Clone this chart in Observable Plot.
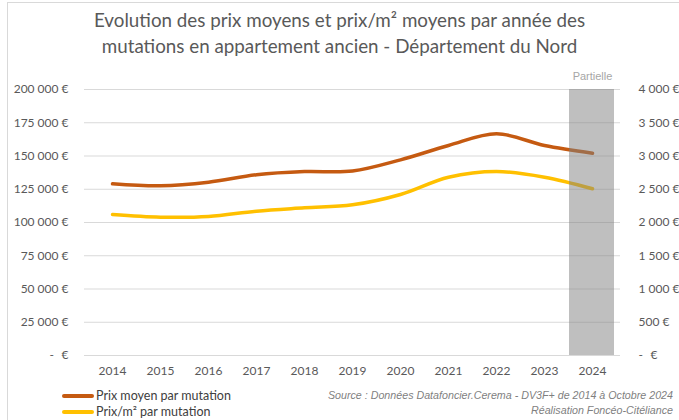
<!DOCTYPE html>
<html><head><meta charset="utf-8">
<script src="https://cdn.jsdelivr.net/npm/d3@7"></script>
<script src="https://cdn.jsdelivr.net/npm/@observablehq/plot@0.6"></script>
<style>
body{margin:0;background:#fff;width:679px;height:420px;overflow:hidden;position:relative;font-family:Lato,"Open Sans",sans-serif;}
#frame{position:absolute;left:7px;top:2px;width:700px;height:440px;border:1px solid #d9d9d9;}
#title{position:absolute;left:0;top:7px;width:679px;text-align:center;color:#595959;font-size:18.8px;line-height:26px;}
#chart{position:absolute;left:0;top:62px;}
.leg{position:absolute;left:62px;font-size:12.5px;color:#404040;display:flex;align-items:center;}
.sw{width:32px;height:4px;border-radius:2px;margin-right:2px;}
.src{position:absolute;right:6px;font-family:"Liberation Sans",Arial,sans-serif;font-style:italic;font-size:10.7px;color:#7f7f7f;text-align:right;}
</style></head>
<body>
<div id="frame"></div>
<div id="title">Evolution des prix moyens et prix/m² moyens par année des<br>mutations en appartement ancien - Département du Nord</div>
<div id="chart"></div>
<div class="leg" style="top:388px"><div class="sw" style="background:#C55A11"></div>Prix moyen par mutation</div>
<div class="leg" style="top:404px"><div class="sw" style="background:#FFC000"></div>Prix/m² par mutation</div>
<div class="src" style="top:389px">Source : Données Datafoncier.Cerema - DV3F+ de 2014 à Octobre 2024</div>
<div class="src" style="top:404px">Réalisation Foncéo-Citéliance</div>
<script>
const years = ["2014","2015","2016","2017","2018","2019","2020","2021","2022","2023","2024"];
const prixMoyen = [129100, 127600, 130300, 135900, 138300, 138700, 147100, 157900, 166700, 157900, 152100];
const prixM2 = [2120, 2080, 2090, 2170, 2220, 2266, 2421, 2681, 2767, 2681, 2507];
const leftTicks = [0, 25000, 50000, 75000, 100000, 125000, 150000, 175000, 200000];
const rightTicks = [0, 500, 1000, 1500, 2000, 2500, 3000, 3500, 4000];
const partialYears = ["2024"];
const partialLabel = "Partielle";
const ratio = 200000 / 4000;

const data = years.map((y, i) => ({year: y, moyen: prixMoyen[i], m2: prixM2[i]}));
const nb = n => d3.format(",")(n).replace(/,/g, "\u202F");
const fmtL = v => v === 0 ? "-\u2002\u2009€" : nb(v) + " €";
const fmtR = v => v === 0 ? "-\u2002\u2009€" : nb(v / ratio) + " €";

const chart = Plot.plot({
  width: 679, height: 320,
  marginLeft: 84, marginRight: 59, marginTop: 27, marginBottom: 27,
  style: {fontFamily: "Lato, sans-serif", fontSize: "12px", color: "#595959", background: "transparent"},
  x: {type: "band", domain: years, padding: 0},
  y: {domain: [0, leftTicks[leftTicks.length - 1]]},
  marks: [
    Plot.ruleY(leftTicks, {stroke: "#d9d9d9", strokeWidth: 1}),
    Plot.line(data, {x: "year", y: "moyen", stroke: "#C55A11", strokeWidth: 3.5, curve: "catmull-rom"}),
    Plot.line(data, {x: "year", y: d => d.m2 * ratio, stroke: "#FFC000", strokeWidth: 3.5, curve: "catmull-rom"}),
    Plot.barY(partialYears, {x: d => d, y1: 0, y2: leftTicks[leftTicks.length - 1], fill: "#7f7f7f", fillOpacity: 0.5, insetLeft: 1, insetRight: 2}),
    Plot.text(partialYears, {x: d => d, y: leftTicks[leftTicks.length - 1], text: () => partialLabel, dy: -13, fill: "#a6a6a6", fontFamily: "Liberation Sans, Arial, sans-serif", fontSize: 11}),
    Plot.axisY(leftTicks, {anchor: "left", tickSize: 0, tickPadding: 16, tickFormat: fmtL, label: null, fill: "#595959"}),
    Plot.axisY(leftTicks, {anchor: "right", tickSize: 0, tickPadding: 18, tickFormat: fmtR, label: null, textAnchor: "start", fill: "#595959"}),
    Plot.axisX(years, {anchor: "bottom", tickSize: 0, tickPadding: 11, label: null, fill: "#595959"})
  ]
});
document.getElementById("chart").append(chart);
</script>
</body></html>
